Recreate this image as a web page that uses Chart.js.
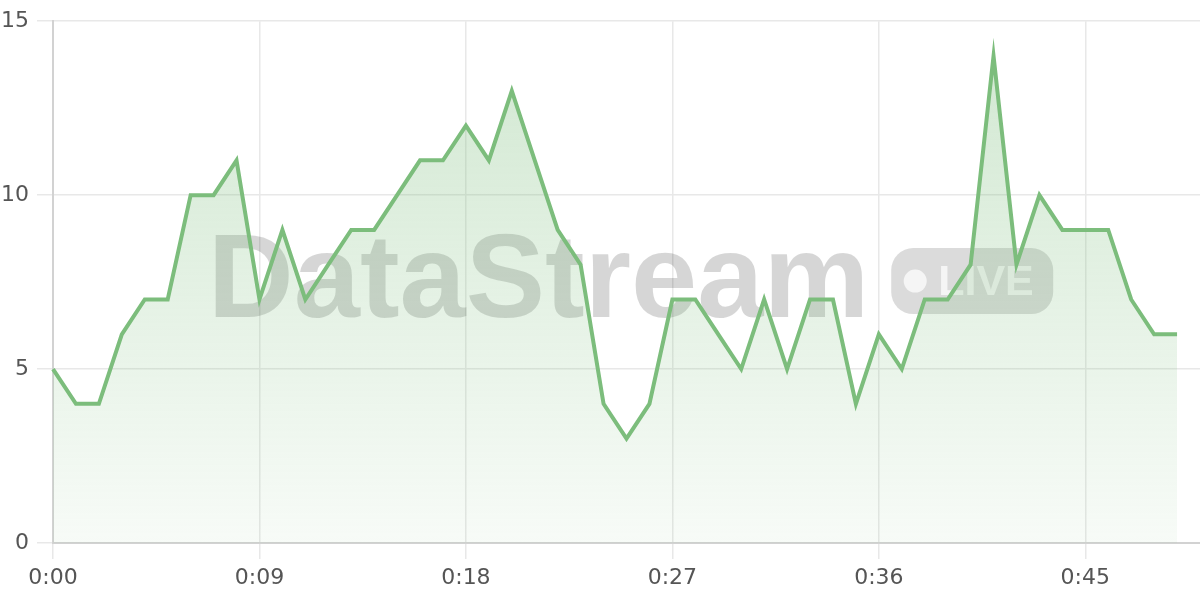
<!DOCTYPE html>
<html lang="en">
<head>
<meta charset="UTF-8">
<meta name="viewport" content="width=device-width, initial-scale=1.0">
<title>DataStream LIVE</title>
<script src="https://cdn.jsdelivr.net/npm/chart.js"></script>
<style>
  html, body { margin: 0; padding: 0; background: #fff; }
  #wrap { width: 1200px; height: 600px; }
</style>
</head>
<body>
<div id="wrap"><canvas id="myChart"></canvas></div>
<script>
// axis runs 0:00 .. 0:50, readings exist for the first 50 minutes
const minutes = [
  '0:00','0:01','0:02','0:03','0:04','0:05','0:06','0:07','0:08','0:09',
  '0:10','0:11','0:12','0:13','0:14','0:15','0:16','0:17','0:18','0:19',
  '0:20','0:21','0:22','0:23','0:24','0:25','0:26','0:27','0:28','0:29',
  '0:30','0:31','0:32','0:33','0:34','0:35','0:36','0:37','0:38','0:39',
  '0:40','0:41','0:42','0:43','0:44','0:45','0:46','0:47','0:48','0:49',
  '0:50'
];
const counts = [
  5, 4, 4, 6, 7, 7, 10, 10, 11, 7,
  9, 7, 8, 9, 9, 10, 11, 11, 12, 11,
  13, 11, 9, 8, 4, 3, 4, 7, 7, 6,
  5, 7, 5, 7, 7, 4, 6, 5, 7, 7,
  8, 14, 8, 10, 9, 9, 9, 7, 6, 6
];
const shownLabels = ['0:00', '0:09', '0:18', '0:27', '0:36', '0:45'];
const yTicks = [0, 5, 10, 15];

const green = 'rgb(124, 189, 124)';
const tickFont = { family: 'DejaVu Sans', size: 22 };

// "DataStream  (● LIVE)" stamp behind the line
const watermark = {
  id: 'watermark',
  beforeDatasetsDraw(chart) {
    const { ctx, chartArea: a } = chart;
    ctx.save();
    ctx.font = 'bold 119px "Liberation Sans"';
    const textW = ctx.measureText('DataStream').width;
    const pillW = 162, pillH = 66, gap = 22;
    const x0 = (a.left + a.right) / 2 - (textW + gap + pillW) / 2 + 4;
    const cy = (a.top + a.bottom) / 2 - 1;

    ctx.fillStyle = 'rgba(0, 0, 0, 0.16)';
    ctx.textBaseline = 'alphabetic';
    ctx.fillText('DataStream', x0, cy + 36);

    const px = x0 + textW + gap;
    ctx.fillStyle = 'rgba(0, 0, 0, 0.14)';
    ctx.beginPath();
    ctx.roundRect(px, cy - pillH / 2, pillW, pillH, 22);
    ctx.fill();

    ctx.fillStyle = 'rgba(255, 255, 255, 0.72)';
    ctx.beginPath();
    ctx.arc(px + 24, cy, 11.5, 0, Math.PI * 2);
    ctx.fill();
    ctx.font = 'bold 43px "Liberation Sans"';
    ctx.textBaseline = 'middle';
    ctx.fillText('LIVE', px + 47, cy + 2);
    ctx.restore();
  }
};

const ctx = document.getElementById('myChart').getContext('2d');
new Chart(ctx, {
  type: 'line',
  data: {
    labels: minutes,
    datasets: [{
      data: counts,
      borderColor: green,
      borderWidth: 4,
      pointRadius: 0,
      tension: 0,
      fill: 'origin',
      backgroundColor(context) {
        const { ctx, chartArea } = context.chart;
        if (!chartArea) return 'rgba(124, 189, 124, 0.2)';
        const g = ctx.createLinearGradient(0, chartArea.top, 0, chartArea.bottom);
        g.addColorStop(0, 'rgba(124, 189, 124, 0.36)');
        g.addColorStop(1, 'rgba(124, 189, 124, 0.06)');
        return g;
      }
    }]
  },
  options: {
    responsive: true,
    maintainAspectRatio: false,
    animation: false,
    layout: { padding: { top: 6, right: 0, bottom: 0, left: 0 } },
    plugins: {
      legend: { display: false },
      tooltip: { enabled: false }
    },
    scales: {
      x: {
        grid: { color: '#e8e8e8', lineWidth: 1.5, tickLength: 16 },
        border: { color: '#d2d2d2', width: 2 },
        ticks: {
          autoSkip: false,
          maxRotation: 0,
          padding: 6,
          color: '#555',
          font: tickFont,
          callback(value) {
            const label = this.getLabelForValue(value);
            return shownLabels.includes(label) ? label : null;
          }
        },
        afterFit(scale) { scale.height = 57; }
      },
      y: {
        min: yTicks[0],
        max: yTicks[yTicks.length - 1],
        grid: { color: '#e8e8e8', lineWidth: 1.5, tickLength: 16 },
        border: { color: '#d2d2d2', width: 2 },
        ticks: {
          stepSize: yTicks[1] - yTicks[0],
          padding: 8,
          color: '#555',
          font: tickFont
        },
        afterFit(scale) { scale.width = 53; }
      }
    }
  },
  plugins: [watermark]
});
</script>
</body>
</html>
